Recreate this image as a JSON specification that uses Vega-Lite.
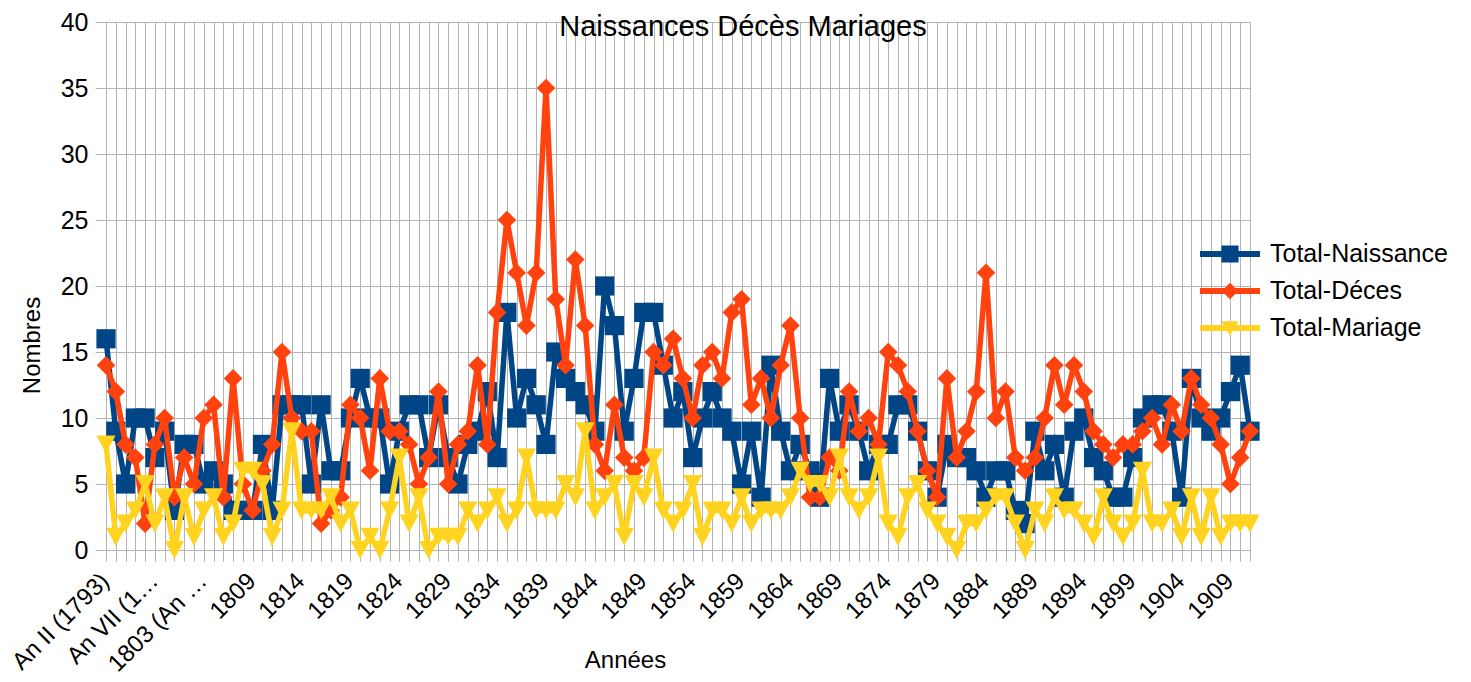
{
  "$schema": "https://vega.github.io/schema/vega-lite/v6.json",
  "width": 1144,
  "height": 528,
  "autosize": {"type": "none"},
  "padding": {"left": 106, "top": 22, "right": 221, "bottom": 132},
  "background": "white",
  "config": {
    "font": "Liberation Sans",
    "view": {"stroke": null},
    "axis": {
      "gridColor": "#b3b3b3", "gridWidth": 1, "gridOpacity": 1,
      "tickColor": "#b3b3b3", "tickSize": 11, "tickWidth": 1,
      "domainColor": "#b3b3b3", "domainWidth": 1,
      "labelColor": "black", "labelFont": "Liberation Sans", "labelFontSize": 24,
      "titleColor": "black", "titleFont": "Liberation Sans", "titleFontSize": 24, "titleFontWeight": "normal"
    }
  },
  "title": {
    "text": "Naissances Décès Mariages",
    "font": "Liberation Sans", "fontSize": 29, "fontWeight": "normal", "color": "black",
    "anchor": "middle", "frame": "group", "offset": 0, "dx": 65, "dy": 55, "baseline": "alphabetic"
  },
  "data": {"values": [
    {"annee": "An II (1793)", "Total-Naissance": 16, "Total-Déces": 14, "Total-Mariage": 8},
    {"annee": "An III (1794)", "Total-Naissance": 9, "Total-Déces": 12, "Total-Mariage": 1},
    {"annee": "An IV (1795)", "Total-Naissance": 5, "Total-Déces": 8, "Total-Mariage": 2},
    {"annee": "An V (1796)", "Total-Naissance": 10, "Total-Déces": 7, "Total-Mariage": 3},
    {"annee": "An VI (1797)", "Total-Naissance": 10, "Total-Déces": 2, "Total-Mariage": 5},
    {"annee": "An VII (1798)", "Total-Naissance": 7, "Total-Déces": 8, "Total-Mariage": 2},
    {"annee": "An VIII (1799)", "Total-Naissance": 9, "Total-Déces": 10, "Total-Mariage": 4},
    {"annee": "An IX (1800)", "Total-Naissance": 3, "Total-Déces": 4, "Total-Mariage": 0},
    {"annee": "An X (1801)", "Total-Naissance": 8, "Total-Déces": 7, "Total-Mariage": 4},
    {"annee": "An XI (1802)", "Total-Naissance": 8, "Total-Déces": 5, "Total-Mariage": 1},
    {"annee": "1803 (An XII)", "Total-Naissance": 5, "Total-Déces": 10, "Total-Mariage": 3},
    {"annee": "1805", "Total-Naissance": 6, "Total-Déces": 11, "Total-Mariage": 4},
    {"annee": "1806", "Total-Naissance": 5, "Total-Déces": 4, "Total-Mariage": 1},
    {"annee": "1807", "Total-Naissance": 3, "Total-Déces": 13, "Total-Mariage": 2},
    {"annee": "1808", "Total-Naissance": 3, "Total-Déces": 5, "Total-Mariage": 6},
    {"annee": "1809", "Total-Naissance": 3, "Total-Déces": 3, "Total-Mariage": 6},
    {"annee": "1810", "Total-Naissance": 8, "Total-Déces": 6, "Total-Mariage": 5},
    {"annee": "1811", "Total-Naissance": 3, "Total-Déces": 8, "Total-Mariage": 1},
    {"annee": "1812", "Total-Naissance": 11, "Total-Déces": 15, "Total-Mariage": 3},
    {"annee": "1813", "Total-Naissance": 11, "Total-Déces": 10, "Total-Mariage": 9},
    {"annee": "1814", "Total-Naissance": 11, "Total-Déces": 9, "Total-Mariage": 3},
    {"annee": "1815", "Total-Naissance": 5, "Total-Déces": 9, "Total-Mariage": 3},
    {"annee": "1816", "Total-Naissance": 11, "Total-Déces": 2, "Total-Mariage": 3},
    {"annee": "1817", "Total-Naissance": 6, "Total-Déces": 3, "Total-Mariage": 4},
    {"annee": "1818", "Total-Naissance": 6, "Total-Déces": 4, "Total-Mariage": 2},
    {"annee": "1819", "Total-Naissance": 10, "Total-Déces": 11, "Total-Mariage": 3},
    {"annee": "1820", "Total-Naissance": 13, "Total-Déces": 10, "Total-Mariage": 0},
    {"annee": "1821", "Total-Naissance": 10, "Total-Déces": 6, "Total-Mariage": 1},
    {"annee": "1822", "Total-Naissance": 10, "Total-Déces": 13, "Total-Mariage": 0},
    {"annee": "1823", "Total-Naissance": 5, "Total-Déces": 9, "Total-Mariage": 3},
    {"annee": "1824", "Total-Naissance": 9, "Total-Déces": 9, "Total-Mariage": 7},
    {"annee": "1825", "Total-Naissance": 11, "Total-Déces": 8, "Total-Mariage": 2},
    {"annee": "1826", "Total-Naissance": 11, "Total-Déces": 5, "Total-Mariage": 4},
    {"annee": "1827", "Total-Naissance": 7, "Total-Déces": 7, "Total-Mariage": 0},
    {"annee": "1828", "Total-Naissance": 11, "Total-Déces": 12, "Total-Mariage": 1},
    {"annee": "1829", "Total-Naissance": 7, "Total-Déces": 5, "Total-Mariage": 1},
    {"annee": "1830", "Total-Naissance": 5, "Total-Déces": 8, "Total-Mariage": 1},
    {"annee": "1831", "Total-Naissance": 8, "Total-Déces": 9, "Total-Mariage": 3},
    {"annee": "1832", "Total-Naissance": 9, "Total-Déces": 14, "Total-Mariage": 2},
    {"annee": "1833", "Total-Naissance": 12, "Total-Déces": 8, "Total-Mariage": 3},
    {"annee": "1834", "Total-Naissance": 7, "Total-Déces": 18, "Total-Mariage": 4},
    {"annee": "1835", "Total-Naissance": 18, "Total-Déces": 25, "Total-Mariage": 2},
    {"annee": "1836", "Total-Naissance": 10, "Total-Déces": 21, "Total-Mariage": 3},
    {"annee": "1837", "Total-Naissance": 13, "Total-Déces": 17, "Total-Mariage": 7},
    {"annee": "1838", "Total-Naissance": 11, "Total-Déces": 21, "Total-Mariage": 3},
    {"annee": "1839", "Total-Naissance": 8, "Total-Déces": 35, "Total-Mariage": 3},
    {"annee": "1840", "Total-Naissance": 15, "Total-Déces": 19, "Total-Mariage": 3},
    {"annee": "1841", "Total-Naissance": 13, "Total-Déces": 14, "Total-Mariage": 5},
    {"annee": "1842", "Total-Naissance": 12, "Total-Déces": 22, "Total-Mariage": 4},
    {"annee": "1843", "Total-Naissance": 11, "Total-Déces": 17, "Total-Mariage": 9},
    {"annee": "1844", "Total-Naissance": 9, "Total-Déces": 8, "Total-Mariage": 3},
    {"annee": "1845", "Total-Naissance": 20, "Total-Déces": 6, "Total-Mariage": 4},
    {"annee": "1846", "Total-Naissance": 17, "Total-Déces": 11, "Total-Mariage": 5},
    {"annee": "1847", "Total-Naissance": 9, "Total-Déces": 7, "Total-Mariage": 1},
    {"annee": "1848", "Total-Naissance": 13, "Total-Déces": 6, "Total-Mariage": 5},
    {"annee": "1849", "Total-Naissance": 18, "Total-Déces": 7, "Total-Mariage": 4},
    {"annee": "1850", "Total-Naissance": 18, "Total-Déces": 15, "Total-Mariage": 7},
    {"annee": "1851", "Total-Naissance": 14, "Total-Déces": 14, "Total-Mariage": 3},
    {"annee": "1852", "Total-Naissance": 10, "Total-Déces": 16, "Total-Mariage": 2},
    {"annee": "1853", "Total-Naissance": 12, "Total-Déces": 13, "Total-Mariage": 3},
    {"annee": "1854", "Total-Naissance": 7, "Total-Déces": 10, "Total-Mariage": 5},
    {"annee": "1855", "Total-Naissance": 10, "Total-Déces": 14, "Total-Mariage": 1},
    {"annee": "1856", "Total-Naissance": 12, "Total-Déces": 15, "Total-Mariage": 3},
    {"annee": "1857", "Total-Naissance": 10, "Total-Déces": 13, "Total-Mariage": 3},
    {"annee": "1858", "Total-Naissance": 9, "Total-Déces": 18, "Total-Mariage": 2},
    {"annee": "1859", "Total-Naissance": 5, "Total-Déces": 19, "Total-Mariage": 4},
    {"annee": "1860", "Total-Naissance": 9, "Total-Déces": 11, "Total-Mariage": 2},
    {"annee": "1861", "Total-Naissance": 4, "Total-Déces": 13, "Total-Mariage": 3},
    {"annee": "1862", "Total-Naissance": 14, "Total-Déces": 10, "Total-Mariage": 3},
    {"annee": "1863", "Total-Naissance": 9, "Total-Déces": 14, "Total-Mariage": 3},
    {"annee": "1864", "Total-Naissance": 6, "Total-Déces": 17, "Total-Mariage": 4},
    {"annee": "1865", "Total-Naissance": 8, "Total-Déces": 10, "Total-Mariage": 6},
    {"annee": "1866", "Total-Naissance": 6, "Total-Déces": 4, "Total-Mariage": 5},
    {"annee": "1867", "Total-Naissance": 4, "Total-Déces": 4, "Total-Mariage": 5},
    {"annee": "1868", "Total-Naissance": 13, "Total-Déces": 7, "Total-Mariage": 4},
    {"annee": "1869", "Total-Naissance": 9, "Total-Déces": 6, "Total-Mariage": 7},
    {"annee": "1870", "Total-Naissance": 11, "Total-Déces": 12, "Total-Mariage": 4},
    {"annee": "1871", "Total-Naissance": 9, "Total-Déces": 9, "Total-Mariage": 3},
    {"annee": "1872", "Total-Naissance": 6, "Total-Déces": 10, "Total-Mariage": 4},
    {"annee": "1873", "Total-Naissance": 8, "Total-Déces": 8, "Total-Mariage": 7},
    {"annee": "1874", "Total-Naissance": 8, "Total-Déces": 15, "Total-Mariage": 2},
    {"annee": "1875", "Total-Naissance": 11, "Total-Déces": 14, "Total-Mariage": 1},
    {"annee": "1876", "Total-Naissance": 11, "Total-Déces": 12, "Total-Mariage": 4},
    {"annee": "1877", "Total-Naissance": 9, "Total-Déces": 9, "Total-Mariage": 5},
    {"annee": "1878", "Total-Naissance": 6, "Total-Déces": 6, "Total-Mariage": 3},
    {"annee": "1879", "Total-Naissance": 4, "Total-Déces": 4, "Total-Mariage": 2},
    {"annee": "1880", "Total-Naissance": 8, "Total-Déces": 13, "Total-Mariage": 1},
    {"annee": "1881", "Total-Naissance": 7, "Total-Déces": 7, "Total-Mariage": 0},
    {"annee": "1882", "Total-Naissance": 7, "Total-Déces": 9, "Total-Mariage": 2},
    {"annee": "1883", "Total-Naissance": 6, "Total-Déces": 12, "Total-Mariage": 2},
    {"annee": "1884", "Total-Naissance": 4, "Total-Déces": 21, "Total-Mariage": 3},
    {"annee": "1885", "Total-Naissance": 6, "Total-Déces": 10, "Total-Mariage": 4},
    {"annee": "1886", "Total-Naissance": 6, "Total-Déces": 12, "Total-Mariage": 4},
    {"annee": "1887", "Total-Naissance": 3, "Total-Déces": 7, "Total-Mariage": 2},
    {"annee": "1888", "Total-Naissance": 2, "Total-Déces": 6, "Total-Mariage": 0},
    {"annee": "1889", "Total-Naissance": 9, "Total-Déces": 7, "Total-Mariage": 3},
    {"annee": "1890", "Total-Naissance": 6, "Total-Déces": 10, "Total-Mariage": 2},
    {"annee": "1891", "Total-Naissance": 8, "Total-Déces": 14, "Total-Mariage": 4},
    {"annee": "1892", "Total-Naissance": 4, "Total-Déces": 11, "Total-Mariage": 3},
    {"annee": "1893", "Total-Naissance": 9, "Total-Déces": 14, "Total-Mariage": 3},
    {"annee": "1894", "Total-Naissance": 10, "Total-Déces": 12, "Total-Mariage": 2},
    {"annee": "1895", "Total-Naissance": 7, "Total-Déces": 9, "Total-Mariage": 1},
    {"annee": "1896", "Total-Naissance": 6, "Total-Déces": 8, "Total-Mariage": 4},
    {"annee": "1897", "Total-Naissance": 4, "Total-Déces": 7, "Total-Mariage": 2},
    {"annee": "1898", "Total-Naissance": 4, "Total-Déces": 8, "Total-Mariage": 1},
    {"annee": "1899", "Total-Naissance": 7, "Total-Déces": 8, "Total-Mariage": 2},
    {"annee": "1900", "Total-Naissance": 10, "Total-Déces": 9, "Total-Mariage": 6},
    {"annee": "1901", "Total-Naissance": 11, "Total-Déces": 10, "Total-Mariage": 2},
    {"annee": "1902", "Total-Naissance": 11, "Total-Déces": 8, "Total-Mariage": 2},
    {"annee": "1903", "Total-Naissance": 9, "Total-Déces": 11, "Total-Mariage": 3},
    {"annee": "1904", "Total-Naissance": 4, "Total-Déces": 9, "Total-Mariage": 1},
    {"annee": "1905", "Total-Naissance": 13, "Total-Déces": 13, "Total-Mariage": 4},
    {"annee": "1906", "Total-Naissance": 10, "Total-Déces": 11, "Total-Mariage": 1},
    {"annee": "1907", "Total-Naissance": 9, "Total-Déces": 10, "Total-Mariage": 4},
    {"annee": "1908", "Total-Naissance": 10, "Total-Déces": 8, "Total-Mariage": 1},
    {"annee": "1909", "Total-Naissance": 12, "Total-Déces": 5, "Total-Mariage": 2},
    {"annee": "1910", "Total-Naissance": 14, "Total-Déces": 7, "Total-Mariage": 2},
    {"annee": "1911", "Total-Naissance": 9, "Total-Déces": 9, "Total-Mariage": 2}
  ]},
  "transform": [
    {"fold": ["Total-Naissance", "Total-Déces", "Total-Mariage"], "as": ["serie", "valeur"]}
  ],
  "encoding": {
    "x": {
      "field": "annee", "type": "ordinal", "sort": null,
      "scale": {"type": "point", "padding": 0},
      "axis": {
        "title": "Années", "titleX": 519, "titleY": 117, "titleAlign": "center", "titleBaseline": "alphabetic",
        "grid": true, "labelAngle": -45, "labelAlign": "right", "labelBaseline": "alphabetic",
        "labelOverlap": false, "labelBound": false, "labelFlush": false,
        "labelPadding": 21, "labelOffset": 4,
        "labelExpr": "datum.value == 'An II (1793)' ? datum.value : datum.value == 'An VII (1798)' ? 'An VII (1…' : datum.value == '1803 (An XII)' ? '1803 (An …' : (toNumber(datum.value) >= 1809 && (toNumber(datum.value) - 1809) % 5 == 0) ? datum.value : ''"
      }
    },
    "y": {
      "field": "valeur", "type": "quantitative",
      "scale": {"domain": [0, 40], "nice": false, "zero": true},
      "axis": {
        "title": "Nombres", "titleAngle": -90, "titleX": -74, "titleY": 323, "titleAlign": "center", "titleBaseline": "middle",
        "values": [0, 5, 10, 15, 20, 25, 30, 35, 40], "grid": true, "labelPadding": 7, "labelFontSize": 25
      }
    }
  },
  "layer": [
    {
      "transform": [{"filter": "datum.serie === 'Total-Naissance'"}],
      "mark": {"type": "line", "strokeWidth": 5.5, "color": "#004586"}
    },
    {
      "transform": [{"filter": "datum.serie === 'Total-Naissance'"}],
      "mark": {"type": "point", "filled": true, "size": 900, "opacity": 1, "strokeWidth": 0, "color": "#004586", "shape": "M-0.64,-0.64H0.64V0.64H-0.64Z"}
    },
    {
      "transform": [{"filter": "datum.serie === 'Total-Déces'"}],
      "mark": {"type": "line", "strokeWidth": 5.5, "color": "#ff420e"}
    },
    {
      "transform": [{"filter": "datum.serie === 'Total-Déces'"}],
      "mark": {"type": "point", "filled": true, "size": 900, "opacity": 1, "strokeWidth": 0, "color": "#ff420e", "shape": "M-0.62,0L0,-0.62L0.62,0L0,0.62Z"}
    },
    {
      "transform": [{"filter": "datum.serie === 'Total-Mariage'"}],
      "mark": {"type": "line", "strokeWidth": 5.5, "color": "#ffd320"}
    },
    {
      "transform": [{"filter": "datum.serie === 'Total-Mariage'"}],
      "mark": {"type": "point", "filled": true, "size": 900, "opacity": 1, "strokeWidth": 0, "color": "#ffd320", "shape": "M-0.64,-0.6L0.64,-0.6L0,0.6Z"}
    },
    {
      "mark": {"type": "point", "filled": true, "size": 900, "opacity": 0, "strokeWidth": 0},
      "encoding": {
        "color": {
          "field": "serie", "type": "nominal",
          "scale": {"domain": ["Total-Naissance", "Total-Déces", "Total-Mariage"], "range": ["#004586", "#ff420e", "#ffd320"]},
          "legend": {
            "orient": "none", "legendX": 1109, "legendY": 217, "title": null, "padding": 0,
            "labelFontSize": 25, "labelColor": "black", "labelFont": "Liberation Sans", "labelOffset": 25, "labelLimit": 400,
            "symbolSize": 900, "rowPadding": 9, "symbolStrokeWidth": 0, "symbolOpacity": 1
          }
        },
        "shape": {
          "field": "serie", "type": "nominal",
          "scale": {"domain": ["Total-Naissance", "Total-Déces", "Total-Mariage"], "range": ["M-2,-0.2H2V0.2H-2ZM-0.57,-0.57H0.57V0.57H-0.57Z", "M-2,-0.2H2V0.2H-2ZM-0.55,0L0,-0.55L0.55,0L0,0.55Z", "M-2,-0.2H2V0.2H-2ZM-0.57,-0.45L0.57,-0.45L0,0.5Z"]},
          "legend": {
            "orient": "none", "legendX": 1109, "legendY": 217, "title": null, "padding": 0,
            "labelFontSize": 25, "labelColor": "black", "labelFont": "Liberation Sans", "labelOffset": 25, "labelLimit": 400,
            "symbolSize": 900, "rowPadding": 9, "symbolStrokeWidth": 0, "symbolOpacity": 1
          }
        }
      }
    }
  ]
}
